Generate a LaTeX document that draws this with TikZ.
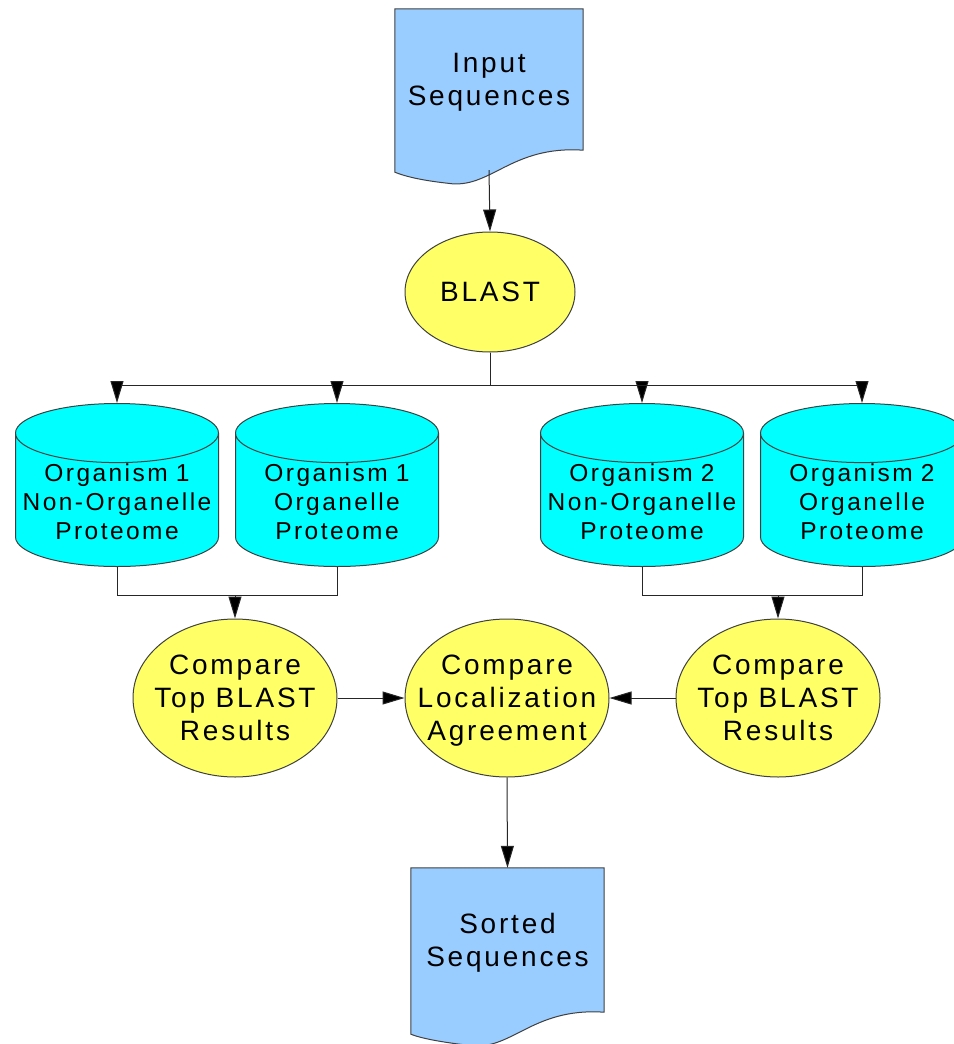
\documentclass[tikz,border=0pt]{standalone}
\usepackage{fontspec}
\setmainfont{Liberation Sans}[LetterSpace=10]
\usetikzlibrary{shapes.geometric,arrows.meta,backgrounds}

\definecolor{docblue}{HTML}{99CCFF}
\definecolor{procyellow}{HTML}{FFFF66}
\definecolor{dbcyan}{HTML}{00FFFF}

% paper sheet with a wavy lower edge, drawn round a named node
\newcommand{\wavydoc}[1]{%
  \draw[docline] (#1.north west) -- (#1.north east) -- (#1.south east)
    .. controls +(-73,-5) and +(43,7) .. ([xshift=-136pt,yshift=-33pt]#1.south east)
    .. controls +(-27,-3) and +(10,4) .. ([yshift=-22pt]#1.south west) -- cycle;}

\begin{document}
\begin{tikzpicture}[
  x=1pt, y=-1pt,
  every node/.style={font=\fontsize{28}{33}\selectfont, align=center, text=black},
  docbox/.style={rectangle, minimum width=188pt, minimum height=141pt,
    inner sep=0pt, text depth=0pt},
  docline/.style={draw=black!75, line width=1pt, fill=docblue},
  procbox/.style={ellipse, draw=black!75, line width=1pt, fill=procyellow,
    inner xsep=-30pt, inner ysep=0pt, text depth=0pt,
    minimum width=204pt, minimum height=158pt},
  dbbox/.style={cylinder, shape border rotate=90, aspect=0.3, anchor=shape center,
    draw=black!75, line width=1pt, fill=dbcyan, minimum width=203pt,
    minimum height=157pt, inner sep=1pt, text width=195pt,
    font=\fontsize{24.5}{29}\selectfont},
  conn/.style={draw=black!85, line width=1pt},
  arr/.style={conn, -{Triangle[length=22pt,width=13pt,fill=black]}}
]
\useasboundingbox (0,0) rectangle (953,1044);

\node[docbox] (input) at (489,79.5) {Input\\Sequences};
\node[procbox, minimum width=170pt, minimum height=120pt] (blast) at (490,292) {BLAST};

\node[dbbox] (db1) at (117,485) {Organism 1\\Non-Organelle\\Proteome};
\node[dbbox] (db2) at (337,485) {Organism 1\\Organelle\\Proteome};
\node[dbbox] (db3) at (642,485) {Organism 2\\Non-Organelle\\Proteome};
\node[dbbox] (db4) at (862,485) {Organism 2\\Organelle\\Proteome};

\node[procbox] (cmp1) at (235,698) {Compare\\Top BLAST\\Results};
\node[procbox] (agree) at (507,698) {Compare\\Localization\\Agreement};
\node[procbox] (cmp2) at (778,698) {Compare\\Top BLAST\\Results};

\node[docbox, minimum width=193pt, minimum height=144pt] (sorted) at (507.5,940) {Sorted\\Sequences};

\begin{scope}[on background layer]
  \wavydoc{input}
  \wavydoc{sorted}
\end{scope}

% connectors
\draw[arr] ([yshift=-20pt]input.south) -- (blast.north);
\foreach \db in {db1,db2,db3,db4}
  \draw[arr] (blast.south) -- ++(0,33) -| (\db.north);
\draw[conn] (db1.south) -- ++(0,28) coordinate (join1) -| (db2.south);
\draw[arr] (join1 -| cmp1.north) -- (cmp1.north);
\draw[conn] (db3.south) -- ++(0,28) coordinate (join2) -| (db4.south);
\draw[arr] (join2 -| cmp2.north) -- (cmp2.north);
\draw[arr] (cmp1.east) -- (agree.west);
\draw[arr] (cmp2.west) -- (agree.east);
\draw[arr] (agree.south) -- (sorted.north);
\end{tikzpicture}
\end{document}
